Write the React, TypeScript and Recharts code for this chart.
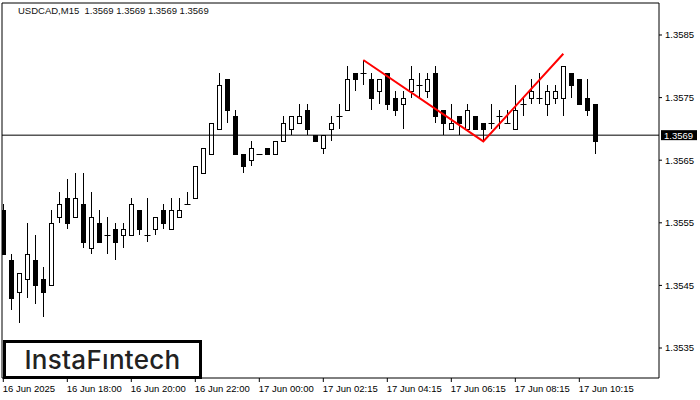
import React from "react";
import { ComposedChart, Bar, Line, XAxis, YAxis, ReferenceLine, ReferenceArea } from "recharts";

// USDCAD M15 bars (4-digit quotes)
const opens = [
  1.3557, 1.3549, 1.3544, 1.3546, 1.3549, 1.3546, 1.3545, 1.3556, 1.3559, 1.3556,
  1.3558, 1.3551, 1.3555, 1.3553, 1.3554, 1.3553, 1.3553, 1.3557, 1.3553, 1.3554,
  1.3557, 1.3554, 1.3556, 1.3558, 1.3559, 1.3563, 1.3566, 1.3570, 1.3578, 1.3572,
  1.3566, 1.3565, 1.3566, 1.3567, 1.3566, 1.3568, 1.3570, 1.3571, 1.3573, 1.3569,
  1.3567, 1.3570, 1.3572, 1.3573, 1.3579, 1.3579, 1.3578, 1.3576, 1.3579, 1.3575,
  1.3574, 1.3576, 1.3577, 1.3576, 1.3579, 1.3573, 1.3570, 1.3572, 1.3570, 1.3572,
  1.3571, 1.3571, 1.3572, 1.3571, 1.3570, 1.3574, 1.3575, 1.3575, 1.3574, 1.3575,
  1.3575, 1.3579, 1.3578, 1.3575, 1.3574,
];
const highs = [
  1.3558, 1.3550, 1.3547, 1.3555, 1.3553, 1.3548, 1.3557, 1.3560, 1.3562, 1.3563,
  1.3563, 1.3560, 1.3557, 1.3556, 1.3555, 1.3555, 1.3559, 1.3557, 1.3559, 1.3556,
  1.3558, 1.3559, 1.3559, 1.3560, 1.3564, 1.3567, 1.3571, 1.3579, 1.3578, 1.3573,
  1.3566, 1.3568, 1.3566, 1.3567, 1.3568, 1.3572, 1.3572, 1.3574, 1.3574, 1.3569,
  1.3569, 1.3572, 1.3574, 1.3580, 1.3579, 1.3581, 1.3579, 1.3578, 1.3579, 1.3576,
  1.3576, 1.3580, 1.3579, 1.3579, 1.3580, 1.3573, 1.3574, 1.3572, 1.3574, 1.3572,
  1.3571, 1.3574, 1.3573, 1.3573, 1.3577, 1.3575, 1.3578, 1.3579, 1.3577, 1.3577,
  1.3580, 1.3579, 1.3578, 1.3578, 1.3574,
];
const lows = [
  1.3550, 1.3541, 1.3539, 1.3543, 1.3542, 1.3540, 1.3545, 1.3555, 1.3554, 1.3556,
  1.3551, 1.3550, 1.3552, 1.3550, 1.3549, 1.3551, 1.3553, 1.3553, 1.3552, 1.3553,
  1.3554, 1.3554, 1.3556, 1.3558, 1.3559, 1.3563, 1.3566, 1.3570, 1.3571, 1.3566,
  1.3563, 1.3564, 1.3566, 1.3566, 1.3566, 1.3568, 1.3569, 1.3571, 1.3569, 1.3568,
  1.3566, 1.3568, 1.3570, 1.3573, 1.3576, 1.3577, 1.3573, 1.3574, 1.3573, 1.3572,
  1.3570, 1.3575, 1.3575, 1.3575, 1.3571, 1.3569, 1.3570, 1.3569, 1.3570, 1.3570,
  1.3568, 1.3570, 1.3570, 1.3571, 1.3570, 1.3572, 1.3574, 1.3574, 1.3572, 1.3574,
  1.3572, 1.3575, 1.3574, 1.3572, 1.3566,
];
const closes = [
  1.3550, 1.3543, 1.3547, 1.3550, 1.3545, 1.3544, 1.3555, 1.3558, 1.3555, 1.3559,
  1.3552, 1.3556, 1.3552, 1.3553, 1.3552, 1.3554, 1.3558, 1.3554, 1.3553, 1.3556,
  1.3555, 1.3557, 1.3557, 1.3558, 1.3564, 1.3567, 1.3571, 1.3577, 1.3573, 1.3566,
  1.3564, 1.3567, 1.3566, 1.3566, 1.3568, 1.3571, 1.3572, 1.3572, 1.3570, 1.3568,
  1.3569, 1.3571, 1.3572, 1.3578, 1.3578, 1.3579, 1.3575, 1.3578, 1.3574, 1.3573,
  1.3575, 1.3578, 1.3577, 1.3578, 1.3572, 1.3571, 1.3571, 1.3571, 1.3573, 1.3570,
  1.3570, 1.3571, 1.3572, 1.3571, 1.3573, 1.3574, 1.3576, 1.3575, 1.3576, 1.3576,
  1.3580, 1.3577, 1.3574, 1.3573, 1.3568,
];

// double top pattern (red line)
const patternBars = [45, 60, 70];
const patternPrices = [1.3581, 1.3568, 1.3582];

const timeTickBars = [0, 8, 16, 24, 32, 40, 48, 56, 64, 72];
const timeTickLabels = [
  "16 Jun 2025", "16 Jun 18:00", "16 Jun 20:00", "16 Jun 22:00", "17 Jun 00:00",
  "17 Jun 02:15", "17 Jun 04:15", "17 Jun 06:15", "17 Jun 08:15", "17 Jun 10:15",
];
const priceTicks = [1.3535, 1.3545, 1.3555, 1.3565, 1.3575, 1.3585];
const lastPrice = 1.3569;

const X_MIN = -0.1625;
const X_MAX = 81.96;
const Y_MIN = 1.353021;
const Y_MAX = 1.359011;
const FONT = "'Liberation Sans', Arial, sans-serif";

const Candle = (props: any) => {
  const { x, y, width, height, payload } = props;
  if (x == null || y == null) return null;
  const { open, close, high, low } = payload;
  const top = Math.min(y, y + height);
  const h = Math.abs(height);
  const cx = Math.round(x + width / 2 - 0.5) + 0.5;
  const py = (v: number) => (high === low ? top : top + ((high - v) / (high - low)) * h);
  const yHigh = Math.round(top);
  const yLow = Math.round(top + h);
  const bTop = Math.round(py(Math.max(open, close)));
  const bBot = Math.round(py(Math.min(open, close)));
  const up = close > open;
  return (
    <g>
      <line x1={cx} x2={cx} y1={yHigh} y2={yLow} stroke="#000" strokeWidth={1} />
      {open === close ? (
        <line x1={cx - 3} x2={cx + 3} y1={bTop + 0.5} y2={bTop + 0.5} stroke="#000" strokeWidth={1} />
      ) : (
        <rect
          x={cx - 2}
          y={bTop + 0.5}
          width={4}
          height={Math.max(bBot - bTop, 1)}
          fill={up ? "#fff" : "#000"}
          stroke="#000"
          strokeWidth={1}
        />
      )}
    </g>
  );
};

const TimeTick = (props: any) => {
  const { x, y, payload } = props;
  const idx = timeTickBars.indexOf(payload.value);
  return (
    <text x={x - 0.5} y={y} dy="0.71em" textAnchor="start" fontSize={9.5} fontFamily={FONT} fill="#000">
      {idx >= 0 ? timeTickLabels[idx] : ""}
    </text>
  );
};

const PriceTag = (props: any) => {
  const vb = props.viewBox;
  if (!vb) return null;
  const left = vb.x + vb.width + 2;
  return (
    <g>
      <rect x={left} y={vb.y - 5} width={36} height={10} fill="#000" />
      <text x={left + 3} y={vb.y} dy="0.355em" fontSize={9.5} fontFamily={FONT} fill="#fff">
        {lastPrice.toFixed(4)}
      </text>
    </g>
  );
};

export default function App() {
  const data = opens.map((o, i) => {
    const p = patternBars.indexOf(i);
    return {
      i,
      open: o,
      high: highs[i],
      low: lows[i],
      close: closes[i],
      range: [lows[i], highs[i]],
      pattern: p >= 0 ? patternPrices[p] : null,
    };
  });

  return (
    <div style={{ position: "absolute", left: 0, top: 0, width: 700, height: 400, background: "#fff" }}>
      <ComposedChart width={700} height={400} data={data} margin={{ top: 3, right: 0, bottom: 0, left: 2 }}>
        <XAxis
          dataKey="i"
          type="number"
          domain={[X_MIN, X_MAX]}
          allowDataOverflow
          ticks={timeTickBars}
          interval={0}
          tick={<TimeTick />}
          tickLine={{ stroke: "#000" }}
          axisLine={false}
          tickSize={4}
          tickMargin={3}
          height={22}
        />
        <YAxis
          orientation="right"
          type="number"
          domain={[Y_MIN, Y_MAX]}
          allowDataOverflow
          ticks={priceTicks}
          interval={0}
          tickFormatter={(v: number) => v.toFixed(4)}
          tick={{ fill: "#000", fontSize: 9.5, fontFamily: FONT }}
          tickLine={{ stroke: "#000" }}
          axisLine={false}
          tickSize={3}
          tickMargin={3}
          width={41}
        />
        <ReferenceArea x1={X_MIN} x2={X_MAX} y1={Y_MIN} y2={Y_MAX} fill="none" stroke="#000" ifOverflow="visible" />
        <ReferenceLine y={lastPrice} stroke="#000" strokeWidth={1} label={<PriceTag />} />
        <Bar dataKey="range" barSize={5} shape={<Candle />} isAnimationActive={false} />
        <Line
          dataKey="pattern"
          stroke="#ff0000"
          strokeWidth={2}
          dot={false}
          connectNulls
          isAnimationActive={false}
        />
      </ComposedChart>

      <div
        style={{
          position: "absolute",
          left: 18,
          top: 6,
          fontFamily: FONT,
          fontSize: 9.5,
          lineHeight: "10px",
          color: "#111",
          whiteSpace: "pre",
        }}
      >
        {"USDCAD,M15  1.3569 1.3569 1.3569 1.3569"}
      </div>

      <div
        style={{
          position: "absolute",
          left: 3,
          top: 340,
          width: 199,
          height: 39,
          boxSizing: "border-box",
          border: "3px solid #000",
          background: "#fff",
          display: "flex",
          alignItems: "center",
          justifyContent: "center",
          fontFamily: "Inter, 'Noto Sans', sans-serif",
          fontWeight: 500,
          fontSize: 26,
          color: "#222",
          letterSpacing: 0.3,
        }}
      >
        InstaFıntech
      </div>
    </div>
  );
}
